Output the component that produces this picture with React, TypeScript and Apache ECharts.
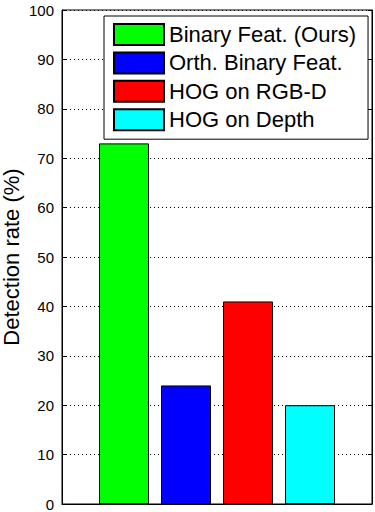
import React, { useEffect, useRef } from "react";
import * as echarts from "echarts";

const categories = [""];
const seriesNames = ["Binary Feat. (Ours)", "Orth. Binary Feat.", "HOG on RGB-D", "HOG on Depth"];
const seriesValues = [[73], [24], [41], [20]];
const seriesColors = ["#00ff00", "#0000ff", "#ff0000", "#00ffff"];
const yTicks = { min: 0, max: 100, interval: 10 };
const yTitle = "Detection rate (%)";

const FONT = "Liberation Sans, Arial, Helvetica, sans-serif";

export default function App() {
  const ref = useRef<HTMLDivElement>(null);
  useEffect(() => {
    document.body.style.margin = "0";
    if (!ref.current) return;
    const chart = echarts.init(ref.current, null, { renderer: "svg" });
    const yBase = {
      type: "value" as const,
      min: yTicks.min,
      max: yTicks.max,
      interval: yTicks.interval,
      axisLine: { show: true, lineStyle: { color: "#000", width: 1 } },
      axisTick: { show: true, inside: true, length: 4, lineStyle: { color: "#000" } },
    };
    chart.setOption({
      animation: false,
      backgroundColor: "#fff",
      grid: {
        left: 62,
        right: 3,
        top: 10,
        bottom: 8,
        show: true,
        borderColor: "#000",
        borderWidth: 1,
        containLabel: false,
        outerBoundsMode: "none",
      },
      legend: {
        orient: "vertical",
        left: 104,
        top: 16,
        data: seriesNames,
        icon: "rect",
        itemWidth: 50,
        itemHeight: 21,
        itemGap: 5.4,
        padding: [7, 12, 8, 9],
        borderColor: "#000",
        borderWidth: 1,
        backgroundColor: "#fff",
        textStyle: { fontSize: 22, lineHeight: 21, color: "#000", fontFamily: FONT },
        selectedMode: false,
      },
      xAxis: {
        type: "category",
        data: categories,
        axisLine: { show: true, lineStyle: { color: "#000" } },
        axisTick: { show: false },
        axisLabel: { show: false },
      },
      yAxis: [
        {
          ...yBase,
          position: "left",
          name: yTitle,
          nameLocation: "middle",
          nameGap: 40,
          nameMoveOverlap: false,
          nameTextStyle: { fontSize: 22, lineHeight: 22, color: "#000", fontFamily: FONT },
          axisLabel: { show: true, fontSize: 15, color: "#000", fontFamily: FONT, margin: 8 },
          splitLine: { show: true, lineStyle: { color: "#000", type: [1, 3], width: 1 } },
        },
        {
          ...yBase,
          position: "right",
          axisLabel: { show: false },
          splitLine: { show: false },
        },
      ],
      series: seriesNames.map((name, i) => ({
        name,
        type: "bar",
        data: seriesValues[i],
        barWidth: 50,
        barGap: "24%",
        itemStyle: { color: seriesColors[i], borderColor: "#000", borderWidth: 1 },
      })),
    });
    return () => chart.dispose();
  }, []);
  return <div ref={ref} style={{ width: 375, height: 512 }} />;
}
